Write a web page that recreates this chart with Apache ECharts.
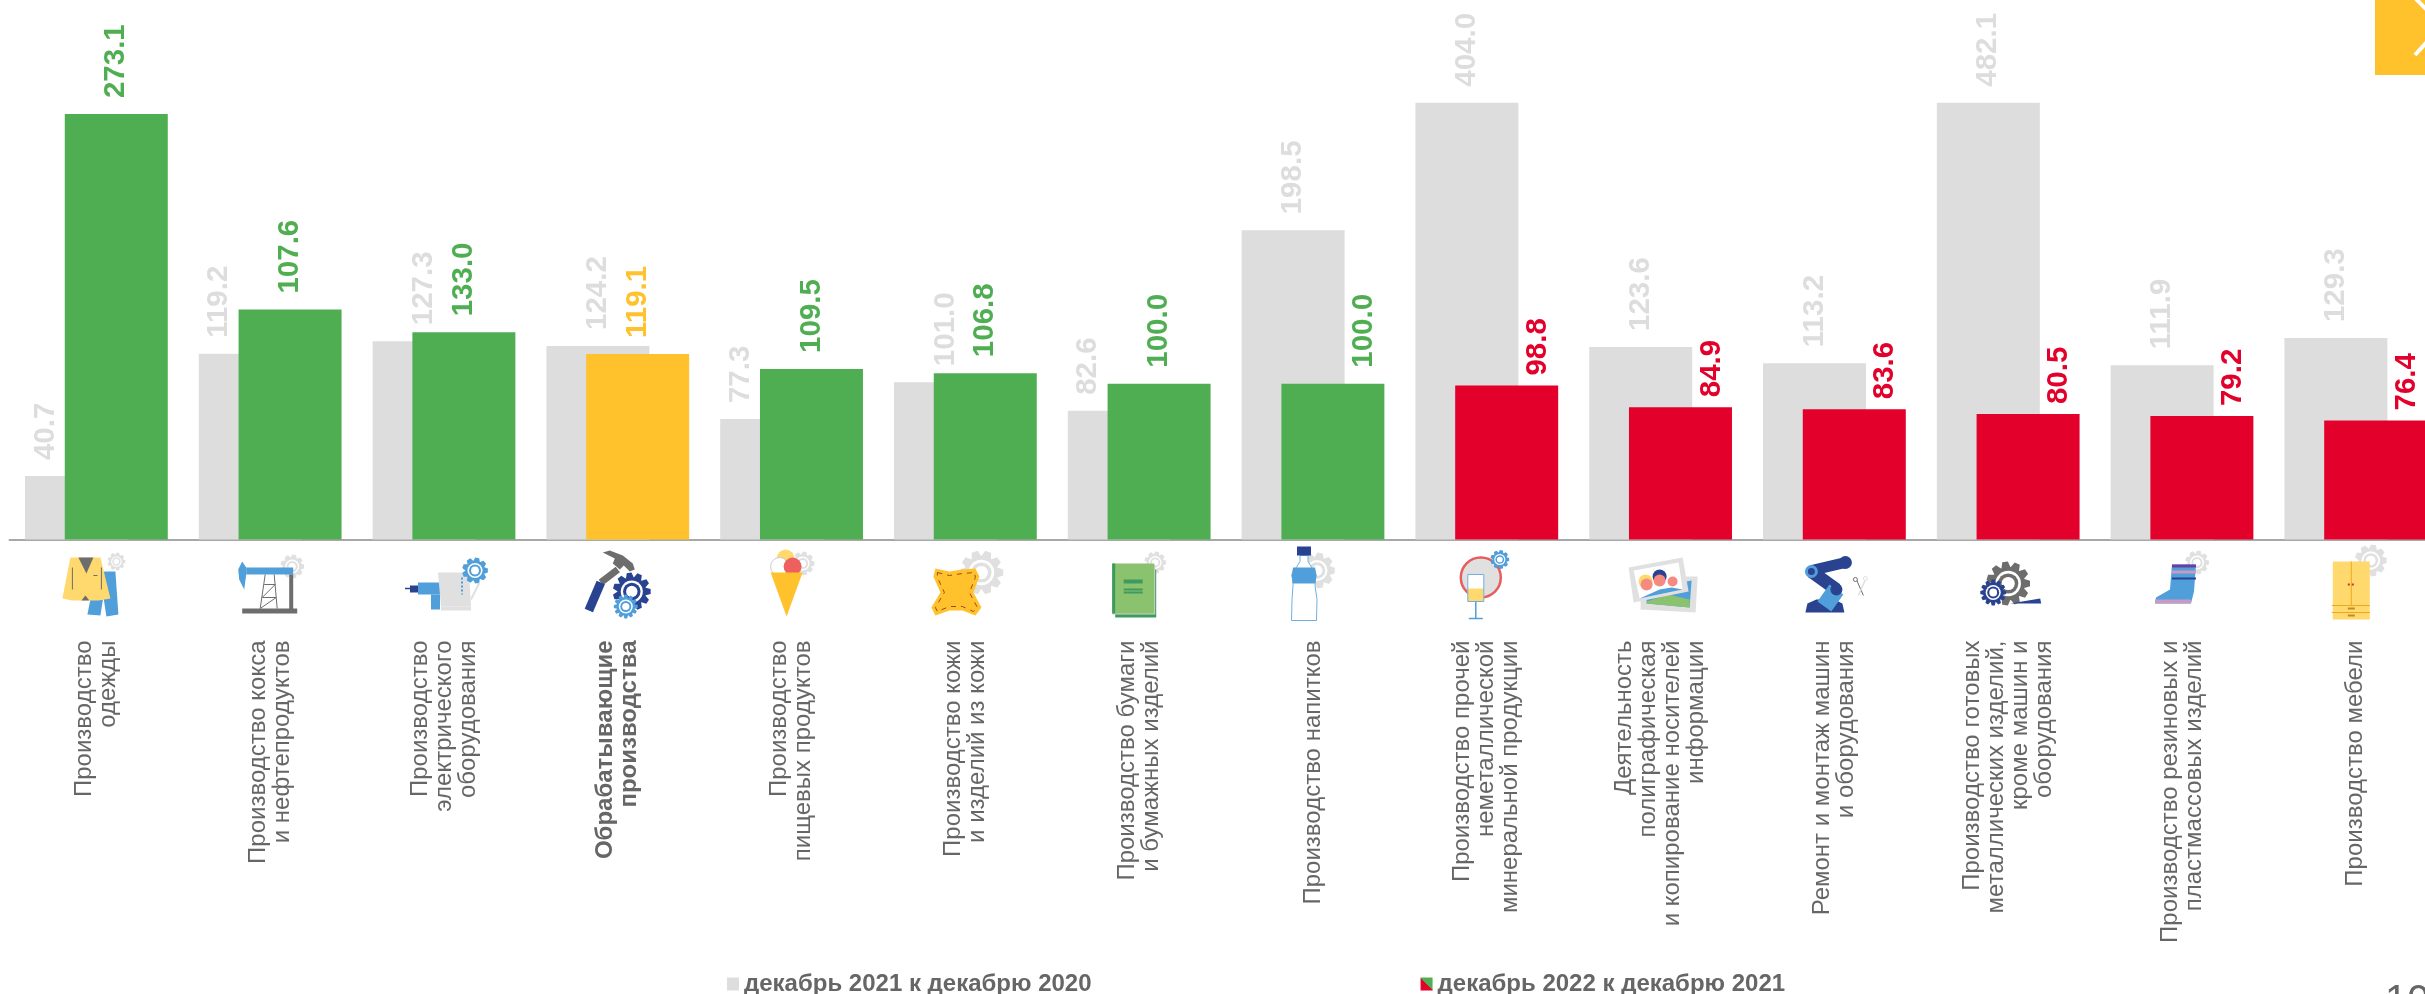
<!DOCTYPE html>
<html>
<head>
<meta charset="utf-8">
<style>
  html, body { margin: 0; padding: 0; background: #fff; overflow: hidden; }
  #chart { width: 2425px; height: 994px; }
</style>
</head>
<body>
<div id="chart"></div>
<script src="https://cdn.jsdelivr.net/npm/echarts@6/dist/echarts.min.js"></script>
<script>
const categories = [
  'Производство\nодежды',
  'Производство кокса\nи нефтепродуктов',
  'Производство\nэлектрического\nоборудования',
  'Обрабатывающие\nпроизводства',
  'Производство\nпищевых продуктов',
  'Производство кожи\nи изделий из кожи',
  'Производство бумаги\nи бумажных изделий',
  'Производство напитков',
  'Производство прочей\nнеметаллической\nминеральной продукции',
  'Деятельность\nполиграфическая\nи копирование носителей\nинформации',
  'Ремонт и монтаж машин\nи оборудования',
  'Производство готовых\nметаллических изделий,\nкроме машин и\nоборудования',
  'Производство резиновых и\nпластмассовых изделий',
  'Производство мебели'
]
const dec2021 = [40.7, 119.2, 127.3, 124.2, 77.3, 101.0, 82.6, 198.5, 404.0, 123.6, 113.2, 482.1, 111.9, 129.3]
// второй столбец на картинке выше своей подписи, поэтому высота и подпись разделены
const dec2022 = [273.1, 147.6, 133.0, 119.1, 109.5, 106.8, 100.0, 100.0, 98.8, 84.9, 83.6, 80.5, 79.2, 76.4]
const dec2022Labels = ['273.1', '107.6', '133.0', '119.1', '109.5', '106.8', '100.0', '100.0', '98.8', '84.9', '83.6', '80.5', '79.2', '76.4']
const totalIndex = 3
const legendNames = ['декабрь 2021 к декабрю 2020', 'декабрь 2022 к декабрю 2021']

const GRAY = '#dddddd'
const GREEN = '#50ae52'
const RED = '#e3002b'
const ORANGE = '#ffc22d'
const TEXT = '#666666'
const FONT = '"Liberation Sans", Arial, sans-serif'

const LIGHT = '#e0e0e0'
const BLUE = '#509fda'
const NAVY = '#2a4390'
const DARK = '#6d6d6d'
const YELLOW = '#ffd96e'

function barColor(i) {
  if (i === totalIndex) return ORANGE
  return parseFloat(dec2022Labels[i]) >= 100 ? GREEN : RED
}

// мелкие помощники для пиктограмм, координаты считаются от подписи оси
const poly = (points, fill) => ({ type: 'polygon', shape: { points }, style: { fill } })
const rect = (x, y, width, height, fill) => ({ type: 'rect', shape: { x, y, width, height }, style: { fill } })
const circ = (cx, cy, r, fill, stroke, lineWidth) => ({ type: 'circle', shape: { cx, cy, r }, style: { fill, stroke, lineWidth: lineWidth || 0 } })
const line = (points, stroke, lineWidth, lineDash) => ({ type: 'polyline', shape: { points }, style: { fill: null, stroke, lineWidth: lineWidth || 1, lineDash } })

function gear(cx, cy, r, fill, teeth) {
  const n = teeth || 9
  const points = []
  for (let k = 0; k < n; k++) {
    const a = (k / n) * Math.PI * 2
    const s = Math.PI / n
    ;[[a - s * 0.95, 0.76], [a - s * 0.45, 1], [a + s * 0.45, 1], [a + s * 0.95, 0.76]].forEach(function (p) {
      points.push([cx + Math.cos(p[0]) * r * p[1], cy + Math.sin(p[0]) * r * p[1]])
    })
  }
  return [poly(points, fill), circ(cx, cy, r * 0.58, '#fff'), circ(cx, cy, r * 0.46, fill), circ(cx, cy, r * 0.3, '#fff')]
}

const icons = [
  // одежда
  [].concat(
    gear(20, 22, 9, LIGHT),
    [poly([[8, 32], [19, 32], [22, 75], [10, 77], [7, 57], [4, 76], [-9, 75], [-5, 55]], BLUE),
      poly([[-26, 18], [4, 18], [14, 59], [2, 61], [-24, 61], [-34, 59]], YELLOW),
      poly([[-18, 18], [-3, 18], [-10, 34]], DARK),
      poly([[-15, 61], [-7, 61], [-11, 56]], DARK),
      line([[-24, 28], [-24, 50]], DARK, 1), line([[5, 28], [5, 50]], DARK, 1), line([[-3, 36], [1, 36]], DARK, 1)]
  ),
  // нефтекачалка
  [].concat(
    gear(22, 27, 12, LIGHT),
    [rect(-24, 28, 47, 7, BLUE),
      poly([[-28, 22], [-24, 28], [-24, 35], [-26, 50], [-31, 40], [-32, 30]], BLUE),
      rect(19, 35, 4, 35, DARK), rect(-28, 69, 55, 5, DARK),
      line([[-5, 35], [-10, 69]], DARK, 1), line([[4, 35], [7, 69]], DARK, 1),
      line([[-6, 45], [5, 45], [-8, 58], [6, 58], [-10, 69]], DARK, 1)]
  ),
  // дрель и чайник
  [].concat(
    [line([[-39, 49], [-34, 49]], NAVY, 1.5), rect(-34, 46, 8, 7, NAVY), rect(-26, 43, 25, 12, BLUE), rect(-13, 55, 9, 15, BLUE),
      poly([[-6, 33], [25, 33], [27, 67], [-3, 67]], LIGHT), rect(-3, 67, 30, 4, LIGHT),
      line([[25, 37], [35, 44], [27, 60]], LIGHT, 2),
      line([[18, 38], [18, 55]], BLUE, 2, [2, 2])],
    gear(31, 31, 13, BLUE)
  ),
  // молоток и шестерни
  [].concat(
    [line([[0, 30], [-17, 43]], DARK, 7),
      line([[-17, 43], [-29, 71]], NAVY, 9),
      poly([[-15, 13], [-8, 11], [5, 16], [15, 24], [17, 30], [12, 32], [6, 26], [2, 30], [-5, 24], [-3, 19]], DARK)],
    gear(14, 52, 19, NAVY, 11),
    gear(8, 67, 12, BLUE, 12)
  ),
  // мороженое
  [].concat(
    gear(11, 24, 12, LIGHT),
    [circ(-6, 19, 9, YELLOW), circ(-12, 27, 9, '#fff', '#cccccc', 1), circ(1, 27, 9, '#ee6060'),
      poly([[-21, 33], [11, 33], [-5, 77]], ORANGE)]
  ),
  // кожа
  [].concat(
    gear(16, 33, 22, LIGHT, 10),
    [poly([[-30, 29], [-16, 32], [-3, 30], [10, 29], [14, 37], [8, 53], [16, 68], [10, 76], [-3, 71], [-16, 71], [-30, 76], [-34, 68], [-25, 53], [-32, 37]], ORANGE),
      line([[-28, 33], [-16, 36], [-3, 34], [9, 33], [10, 38], [4, 53], [12, 68], [8, 72], [-3, 67], [-16, 67], [-28, 72], [-30, 68], [-21, 53], [-28, 38], [-28, 33]], '#9a4a1a', 1, [5, 5])]
  ),
  // книга
  [].concat(
    gear(16, 23, 11, LIGHT),
    [rect(-24, 30, 41, 48, '#3f9a5f'), rect(-27, 25, 43, 50, '#cfcfcf'), rect(-27, 24, 42, 50, '#8ac26e'), rect(-27, 24, 3, 50, '#3f9a5f'),
      rect(-15.5, 40, 19, 4, '#3f9a5f'), rect(-15.5, 49, 19, 2, '#3f9a5f'), rect(-15.5, 52, 19, 2, '#3f9a5f')]
  ),
  // бутылка
  [].concat(
    gear(4, 31, 18, LIGHT),
    [poly([[-13, 16], [-5, 16], [-5, 22], [3, 35], [2, 46], [4, 60], [3.5, 81], [-21.5, 81], [-21, 60], [-20, 46], [-21, 35], [-13, 22]], '#fff'),
      line([[-13, 16], [-5, 16], [-5, 22], [3, 35], [2, 46], [4, 60], [3.5, 81], [-21.5, 81], [-21, 60], [-20, 46], [-21, 35], [-13, 22], [-13, 16]], '#6fb0e2', 1),
      poly([[-20, 28], [2, 28], [3.5, 36], [2, 44], [-20, 44], [-21.5, 36]], BLUE),
      rect(-16, 7, 14, 9, NAVY)]
  ),
  // зеркало и бокал
  [].concat(
    [circ(-6, 38, 20, LIGHT, '#e85c5c', 2.5)],
    gear(13, 20, 9.5, BLUE),
    [rect(-19, 35, 16, 27, '#fff'), rect(-19, 49, 16, 13, YELLOW),
      line([[-19, 35], [-3, 35], [-3, 62], [-19, 62], [-19, 35]], '#6fb0e2', 1),
      line([[-11, 62], [-11, 79]], '#509fda', 1.5), line([[-18, 79], [-4, 79]], '#509fda', 1.5)]
  ),
  // фотографии
  [
    poly([[-20, 37], [37, 37], [35, 73], [-20, 70]], LIGHT),
    poly([[-14, 50], [31, 41], [29, 68], [-14, 64]], BLUE),
    poly([[-14, 62], [8, 55], [29, 60], [29, 68], [-14, 64]], '#8ac26e'),
    poly([[-32, 28], [22, 18], [28, 52], [-27, 63]], LIGHT),
    poly([[-27, 31], [18, 23], [22, 50], [-21, 59]], '#fff'),
    poly([[-21, 59], [-1, 50], [11, 48], [22, 50]], BLUE),
    circ(-15, 42, 7, YELLOW), circ(-14, 45, 6, '#f58a80'),
    circ(-1, 37, 7, NAVY), circ(-1, 41, 6, '#f58a80'),
    circ(12, 42, 5, '#f58a80')
  ],
  // робот
  [
    poly([[-29, 73], [-27, 64], [-18, 60], [0, 60], [8, 64], [10, 73]], NAVY),
    line([[-23, 31], [11, 23]], NAVY, 11),
    circ(11, 23, 6.5, NAVY),
    line([[-23, 32], [2, 50]], NAVY, 13),
    line([[2, 50], [-10, 67]], BLUE, 17),
    circ(-23, 32, 6.5, BLUE), circ(-23, 32, 3.5, NAVY), circ(2, 50, 6, NAVY),
    line([[22, 40], [29, 56]], DARK, 1), line([[31, 40], [24, 56]], LIGHT, 1.5),
    circ(21, 40, 2, '#fff', DARK, 1), circ(31, 39, 2, '#fff', LIGHT, 1)
  ],
  // шестерни
  [].concat(
    gear(0, 44, 22, DARK, 11),
    [poly([[2, 64], [32, 59], [33, 64]], NAVY)],
    gear(-15, 53, 13, NAVY, 12)
  ),
  // сапог
  [].concat(
    gear(15, 23, 12, LIGHT),
    [poly([[-10, 25], [14, 25], [12, 52], [9, 64], [-27, 64], [-26, 58], [-12, 50]], BLUE),
      rect(-10, 25, 24, 3, '#6a3fa0'), rect(-10, 31, 24, 3, '#c79bc4'), rect(-10, 38, 24, 2, NAVY),
      poly([[-27, 60], [9, 60], [9, 64], [-27, 64]], '#c79bc4')]
  ),
  // шкаф
  [].concat(
    gear(15, 21, 16, LIGHT),
    [rect(-23, 22, 37, 58, YELLOW),
      line([[-4.5, 22], [-4.5, 66]], '#f0a818', 1), line([[-24, 66], [14, 66]], '#f0a818', 1), line([[-24, 73], [14, 73]], '#f0a818', 1),
      rect(-8, 44, 2, 2, '#c0392b'), rect(-4, 44, 2, 2, '#c0392b'),
      rect(-8, 68, 7, 2, '#c08a30'), rect(-8, 75, 7, 2, '#c08a30')]
  )
]

const chart = echarts.init(document.getElementById('chart'), null, { renderer: 'canvas' })

const labelBase = {
  show: true,
  position: 'top',
  distance: 16,
  rotate: 90,
  align: 'left',
  verticalAlign: 'middle',
  fontFamily: FONT,
  fontSize: 29.5,
  fontWeight: 'bold'
}

chart.setOption({
  animation: false,
  backgroundColor: '#fff',
  grid: { left: 9.5, top: 102.7, width: 2433.2, height: 436.8, containLabel: false, outerBoundsMode: 'none' },
  legend: {
    left: 727,
    top: 972,
    itemWidth: 12,
    itemHeight: 13,
    itemGap: 329,
    padding: 0,
    selectedMode: false,
    icon: 'rect',
    textStyle: { color: TEXT, fontFamily: FONT, fontSize: 24, fontWeight: 'bold', padding: [0, 0, 0, 0] },
    data: [
      { name: legendNames[0], itemStyle: { color: GRAY } },
      {
        name: legendNames[1],
        itemStyle: {
          color: new echarts.graphic.LinearGradient(0, 1, 1, 0, [
            { offset: 0, color: RED },
            { offset: 0.5, color: RED },
            { offset: 0.5, color: GREEN },
            { offset: 1, color: GREEN }
          ])
        }
      }
    ]
  },
  xAxis: {
    type: 'category',
    data: categories.map(function (name, i) {
      return i === totalIndex ? { value: name, textStyle: { fontWeight: 'bold' } } : name
    }),
    axisLine: { lineStyle: { color: '#a8a8a8', width: 2 } },
    axisTick: { show: false },
    axisLabel: {
      interval: 0,
      rotate: 90,
      margin: 101,
      align: 'right',
      verticalAlign: 'middle',
      color: TEXT,
      fontFamily: FONT,
      fontSize: 24,
      lineHeight: 24
    }
  },
  yAxis: { type: 'value', min: 0, max: 280.4, show: false, splitLine: { show: false } },
  series: [
    {
      name: legendNames[0],
      type: 'bar',
      barWidth: 103,
      barGap: '-61.4%',
      itemStyle: { color: GRAY },
      label: Object.assign({}, labelBase, { color: GRAY }),
      data: dec2021.map(function (v, i) {
        // подпись уходит на видимую полоску, когда рядом столбец заметно выше
        const shifted = dec2022[i] - v > 15
        return {
          value: v,
          label: { formatter: v.toFixed(1), offset: [0, shifted ? -31 : 0] }
        }
      })
    },
    {
      name: legendNames[1],
      type: 'bar',
      barWidth: 103,
      itemStyle: { color: GREEN },
      label: labelBase,
      data: dec2022.map(function (v, i) {
        const shifted = dec2021[i] - v > 15
        const color = barColor(i)
        return {
          value: v,
          itemStyle: { color: color },
          label: {
            color: color,
            formatter: dec2022Labels[i],
            distance: color === RED ? 10 : 16,
            offset: [0, shifted ? 31 : 0]
          }
        }
      })
    },
    {
      name: 'icons',
      type: 'custom',
      silent: true,
      clip: false,
      data: categories.map(function (c, i) { return [i, 0] }),
      encode: { x: 0, y: 1 },
      renderItem: function (params, api) {
        const p = api.coord([params.dataIndex, 0])
        return { type: 'group', x: p[0], y: p[1], children: icons[params.dataIndex] }
      }
    }
  ],
  graphic: [
    { type: 'rect', shape: { x: 2375, y: 0, width: 50, height: 75 }, style: { fill: ORANGE } },
    { type: 'polyline', shape: { points: [[2415, -2], [2442, 25], [2415, 55]] }, style: { fill: null, stroke: '#fff', lineWidth: 4 } },
    { type: 'text', x: 2385, y: 982, style: { text: '10', fill: TEXT, fontFamily: FONT, fontSize: 40, verticalAlign: 'top' } }
  ]
})
</script>
</body>
</html>
